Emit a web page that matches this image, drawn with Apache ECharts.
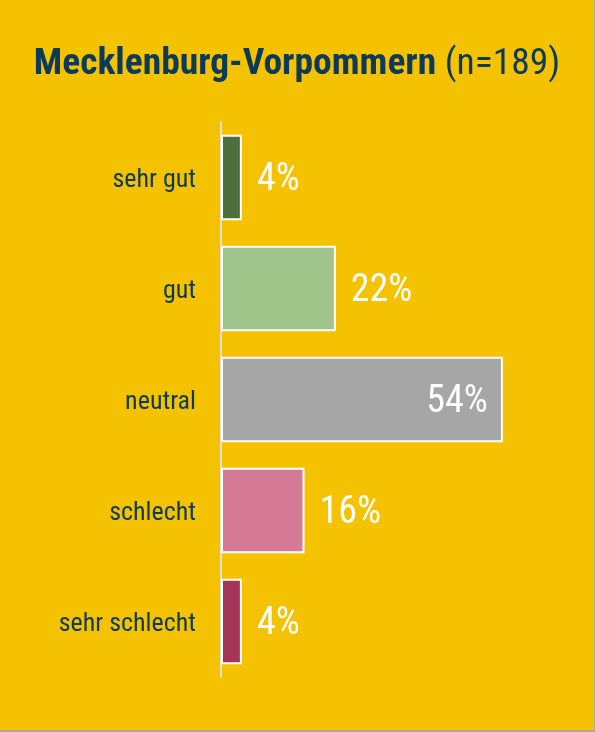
<!DOCTYPE html>
<html>
<head>
<meta charset="utf-8">
<script src="https://cdn.jsdelivr.net/npm/echarts@6/dist/echarts.min.js"></script>
<style>
  html, body { margin: 0; padding: 0; background: #a9a9a9; }
  #chart { width: 594px; height: 730px; background: #F5C200; }
</style>
</head>
<body>
<div id="chart"></div>
<script>
// Daten
const categories = ['sehr gut', 'gut', 'neutral', 'schlecht', 'sehr schlecht'];
const values = [4, 22, 54, 16, 4];
const barColors = ['#4B703E', '#9FC58B', '#A6A6A6', '#D57B96', '#A33658'];

const FONT = "'Roboto Condensed', 'Liberation Sans Narrow', Roboto, sans-serif";

const chart = echarts.init(document.getElementById('chart'));

const option = {
  backgroundColor: '#F5C200',
  title: {
    text: '{b|Mecklenburg-Vorpommern} {n|(n=189)}',
    left: 'center',
    top: 41,
    textStyle: {
      fontFamily: FONT,
      fontSize: 37.5,
      rich: {
        b: { fontFamily: FONT, fontSize: 37.5, fontWeight: 'bold', color: '#0E3A5A' },
        n: { fontFamily: FONT, fontSize: 37.5, fontWeight: 'normal', color: '#0E3A5A' }
      }
    }
  },
  grid: {
    left: 221,
    top: 122,
    width: 313.2,
    height: 555
  },
  xAxis: {
    type: 'value',
    min: 0,
    max: 60,
    show: false
  },
  yAxis: {
    type: 'category',
    data: categories,
    inverse: true,
    axisLine: { show: true, lineStyle: { color: '#E3E0D6', width: 2 } },
    axisTick: { show: false },
    axisLabel: {
      margin: 25,
      formatter: '{a|{value}}',
      rich: {
        a: {
          padding: [5, 0, 0, 0],
          fontFamily: FONT,
          fontSize: 26,
          color: '#0E3A5A'
        }
      }
    }
  },
  series: [{
    type: 'bar',
    barCategoryGap: '23%',
    data: values.map((v, i) => ({
      value: v,
      itemStyle: { color: barColors[i], borderColor: '#ffffff', borderWidth: 2 },
      label: v > 40 ? { position: 'insideRight', distance: 15 } : {}
    })),
    label: {
      show: true,
      position: 'right',
      distance: 15,
      offset: [0, 3],
      formatter: '{c}%',
      fontFamily: FONT,
      fontSize: 38,
      color: '#ffffff'
    }
  }]
};

chart.setOption(option);
</script>
</body>
</html>
